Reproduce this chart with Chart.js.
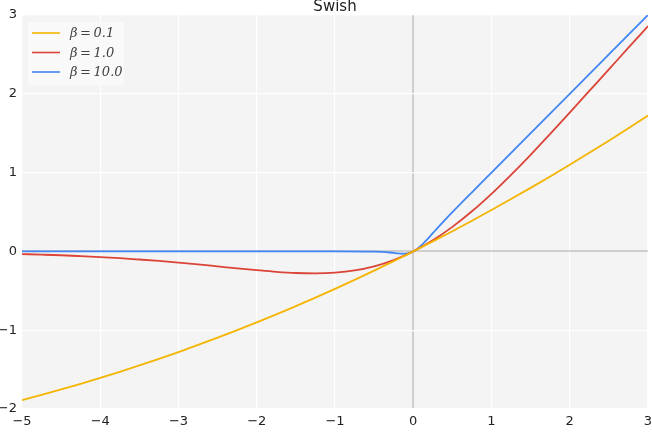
<!DOCTYPE html>
<html>
<head>
<meta charset="utf-8">
<script src="https://cdn.jsdelivr.net/npm/chart.js@4"></script>
<style>
  html, body { margin: 0; padding: 0; background: #fff; }
  #wrap { width: 652px; height: 433px; }
</style>
</head>
<body>
<div id="wrap"><canvas id="swish-chart"></canvas></div>
<script>
"use strict";

// x grid for the two gentle curves
const xs = [-5, -4.75, -4.5, -4.25, -4, -3.75, -3.5, -3.25, -3, -2.75, -2.5, -2.25, -2, -1.75, -1.5, -1.25,
  -1, -0.75, -0.5, -0.25, 0, 0.25, 0.5, 0.75, 1, 1.25, 1.5, 1.75, 2, 2.25, 2.5, 2.75, 3];

const beta01 = [-1.888, -1.821, -1.752, -1.680, -1.605, -1.528, -1.447, -1.363, -1.277, -1.187, -1.095, -0.999, -0.900, -0.799, -0.694, -0.586,
  -0.475, -0.361, -0.244, -0.123, 0, 0.127, 0.256, 0.389, 0.525, 0.664, 0.806, 0.951, 1.100, 1.251, 1.405, 1.563, 1.723];

const beta1 = [-0.034, -0.041, -0.049, -0.060, -0.072, -0.086, -0.103, -0.121, -0.142, -0.165, -0.190, -0.215, -0.238, -0.259, -0.274, -0.278,
  -0.269, -0.241, -0.189, -0.110, 0, 0.141, 0.311, 0.509, 0.731, 0.972, 1.226, 1.491, 1.762, 2.036, 2.310, 2.585, 2.858];

// the steep one needs more points near zero
const xsSteep = [-5, -4, -3, -2, -1, -0.5, -0.4, -0.3, -0.25, -0.2, -0.15, -0.1, -0.05, 0,
  0.05, 0.1, 0.15, 0.2, 0.25, 0.3, 0.4, 0.5, 0.75, 1, 2, 3];
const beta10 = [0, 0, 0, 0, 0, -0.003, -0.007, -0.014, -0.019, -0.024, -0.027, -0.027, -0.019, 0,
  0.031, 0.073, 0.123, 0.176, 0.231, 0.286, 0.393, 0.497, 0.75, 1.0, 2.0, 3.0];

const labels = ["β\u2009=\u20090.1", "β\u2009=\u20091.0", "β\u2009=\u200910.0"];
const colors = ["#f4b400", "#db4437", "#4285f4"];

const toPoints = (x, y) => x.map((v, i) => ({ x: v, y: y[i] }));

const plotBg = {
  id: "plotBg",
  beforeDraw(chart) {
    const { ctx, chartArea: a } = chart;
    ctx.save();
    ctx.fillStyle = "#f4f4f4";
    ctx.fillRect(a.left, a.top, a.right - a.left, a.bottom - a.top);
    ctx.restore();
  },
  afterDraw(chart) {
    const { ctx, chartArea: a } = chart;
    ctx.save();
    // title
    ctx.fillStyle = "#222";
    ctx.font = "15px 'DejaVu Sans'";
    ctx.textAlign = "center";
    ctx.textBaseline = "alphabetic";
    ctx.fillText("Swish", (a.left + a.right) / 2, 11);
    // legend inside the plot
    ctx.fillStyle = "rgba(249,249,249,0.9)";
    ctx.fillRect(28, 22, 96, 63);
    ctx.font = "italic 13px 'DejaVu Serif'";
    ctx.textAlign = "left";
    ctx.textBaseline = "middle";
    chart.data.datasets.forEach((ds, i) => {
      const y = 33 + i * 19.5;
      ctx.strokeStyle = ds.borderColor;
      ctx.lineWidth = 1.6;
      ctx.beginPath();
      ctx.moveTo(32, y);
      ctx.lineTo(60, y);
      ctx.stroke();
      ctx.fillStyle = "#444";
      ctx.fillText(ds.label, 70, y + 1);
    });
    ctx.restore();
  },
};

const minus = (v) => String(v).replace("-", "\u2212");
const gridColor = (c) => (c.tick && c.tick.value === 0 ? "#cfcfcf" : "#ffffff");
const gridWidth = (c) => (c.tick && c.tick.value === 0 ? 2 : 1.2);

new Chart(document.getElementById("swish-chart"), {
  type: "line",
  data: {
    datasets: [
      { label: labels[0], data: toPoints(xs, beta01), borderColor: colors[0] },
      { label: labels[1], data: toPoints(xs, beta1), borderColor: colors[1] },
      { label: labels[2], data: toPoints(xsSteep, beta10), borderColor: colors[2] },
    ].map((d) => ({ ...d, borderWidth: 1.8, pointRadius: 0, fill: false, cubicInterpolationMode: "monotone" })),
  },
  options: {
    responsive: true,
    maintainAspectRatio: false,
    animation: false,
    layout: { padding: { top: 15, right: 0, left: 0, bottom: 0 } },
    plugins: { legend: { display: false }, title: { display: false }, tooltip: { enabled: false } },
    scales: {
      x: {
        type: "linear",
        min: -5,
        max: 3,
        afterFit: (s) => { s.height = 24; s.paddingRight = 4; s.paddingLeft = 0; },
        border: { display: false },
        grid: { color: gridColor, lineWidth: gridWidth, drawTicks: false },
        ticks: { stepSize: 1, padding: 5, color: "#222", font: { family: "DejaVu Sans", size: 13 }, callback: minus, maxRotation: 0 },
      },
      y: {
        min: -2,
        max: 3,
        afterFit: (s) => { s.width = 22; },
        border: { display: false },
        grid: { color: gridColor, lineWidth: gridWidth, drawTicks: false },
        ticks: { stepSize: 1, padding: 5, color: "#222", font: { family: "DejaVu Sans", size: 13 }, callback: minus },
      },
    },
  },
  plugins: [plotBg],
});
</script>
</body>
</html>
